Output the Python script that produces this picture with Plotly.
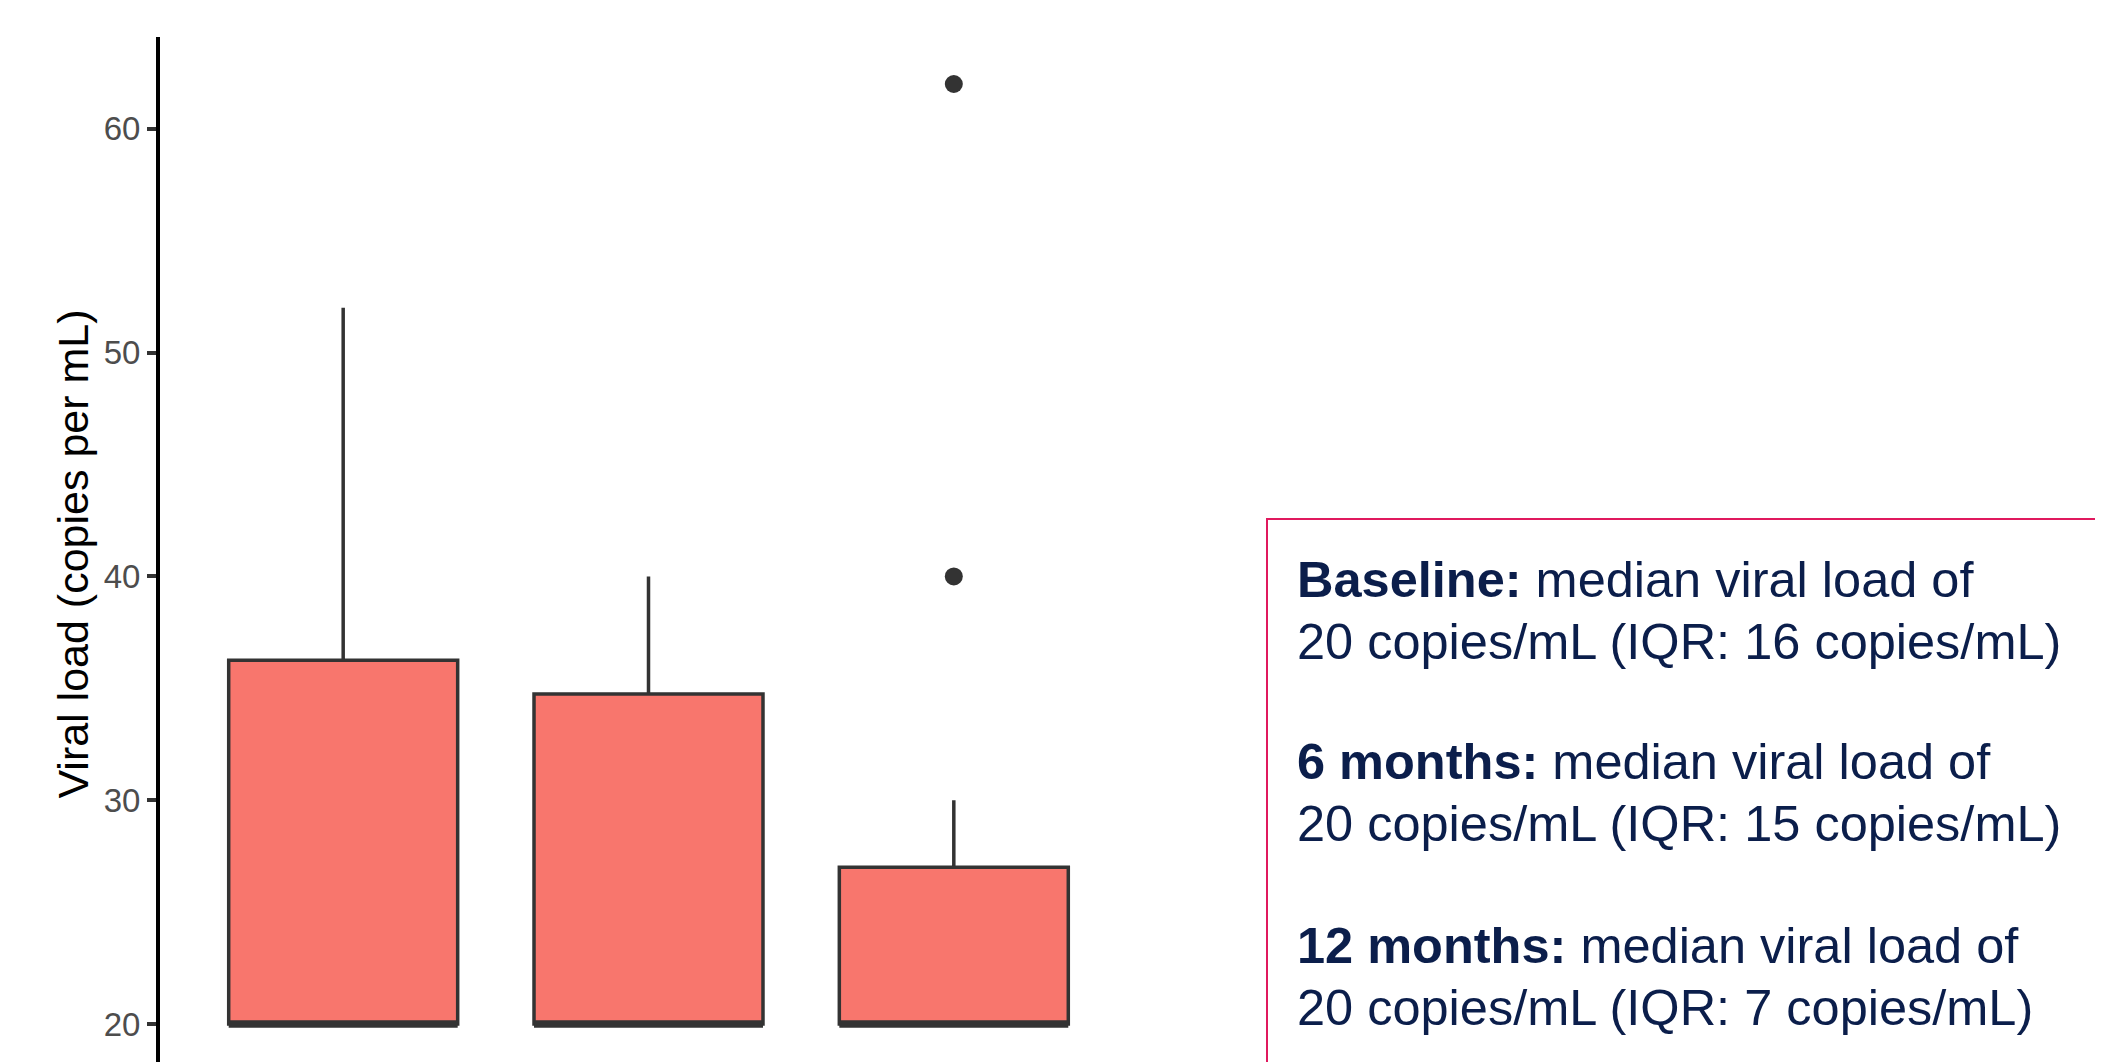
import plotly.graph_objects as go

# ---- data ----
categories = ["Baseline", "6 months", "12 months"]
positions = [1, 2, 3]
q1 = [20, 20, 20]
median = [20, 20, 20]
q3 = [36.25, 34.75, 27]
lowerfence = [20, 20, 20]
upperfence = [52, 40, 30]
outlier_x = [3, 3]
outlier_y = [40, 62]
y_ticks = [20, 30, 40, 50, 60]
box_lines = [
    ("Baseline:", "median viral load of", "20 copies/mL (IQR: 16 copies/mL)"),
    ("6 months:", "median viral load of", "20 copies/mL (IQR: 15 copies/mL)"),
    ("12 months:", "median viral load of", "20 copies/mL (IQR: 7 copies/mL)"),
]

BOX_W = 0.75
OFF = 8                      # page body margin
W, H = 2095, 1063
L, T, B = 152, 29, 0
PW = 977
R = W - L - PW
PH = H - T - B


def sx(x):  # screenshot px -> paper x
    return (x - OFF - L) / PW


def sy(y):  # screenshot px -> paper y
    return (H - B - (y - OFF)) / PH


fig = go.Figure()
fig.add_trace(go.Box(
    x=positions, q1=q1, median=median, q3=q3,
    lowerfence=lowerfence, upperfence=upperfence,
    width=BOX_W, whiskerwidth=0, boxpoints=False,
    fillcolor="#F8766D", line=dict(color="#333333", width=3.5),
    hoverinfo="skip", showlegend=False,
))

# thicker median line (ggplot style)
mx, my = [], []
for p, m in zip(positions, median):
    mx += [p - BOX_W / 2, p + BOX_W / 2, None]
    my += [m, m, None]
fig.add_trace(go.Scatter(x=mx, y=my, mode="lines",
                         line=dict(color="#333333", width=7.5),
                         hoverinfo="skip", showlegend=False))

fig.add_trace(go.Scatter(x=outlier_x, y=outlier_y, mode="markers",
                         marker=dict(color="#333333", size=18),
                         hoverinfo="skip", showlegend=False))

fig.update_layout(
    width=W, height=H,
    margin=dict(l=L, r=R, t=T, b=B, pad=0),
    plot_bgcolor="white", paper_bgcolor="white",
    font=dict(family="Liberation Sans, Arial, sans-serif"),
)
fig.update_xaxes(range=[0.4, 3.6], tickvals=positions, ticktext=categories,
                 showticklabels=False, showline=False, showgrid=False,
                 zeroline=False, ticks="")
fig.update_yaxes(range=[17.9, 64.1], tickvals=y_ticks,
                 showgrid=False, zeroline=False,
                 showline=True, linecolor="black", linewidth=4,
                 ticks="outside", ticklen=9, tickwidth=3.5, tickcolor="#333333",
                 tickfont=dict(size=33, color="#4D4D4D"),
                 ticklabelstandoff=0,
                 title=dict(text="Viral load (copies per mL)",
                            font=dict(size=43, color="black"), standoff=3))

# text box frame
fig.add_shape(type="rect", xref="paper", yref="paper",
              x0=sx(1267), x1=sx(2200), y0=sy(519), y1=sy(1120),
              line=dict(color="#E0195E", width=2), fillcolor="rgba(0,0,0,0)",
              layer="above")

FS = 50.5
baselines = [596.7, 659.0, 779.0, 841.0, 963.0, 1025.0]
i = 0
for bold, rest, line2 in box_lines:
    for txt in (f"<b>{bold}</b> {rest}", line2):
        fig.add_annotation(xref="paper", yref="paper",
                           x=sx(1295), y=sy(baselines[i] - 0.35 * FS),
                           xanchor="left", yanchor="middle", showarrow=False,
                           text=txt,
                           font=dict(size=FS, color="#0B1E4B",
                                     family="Liberation Sans, Arial, sans-serif"))
        i += 1

fig.write_html("out.html")
